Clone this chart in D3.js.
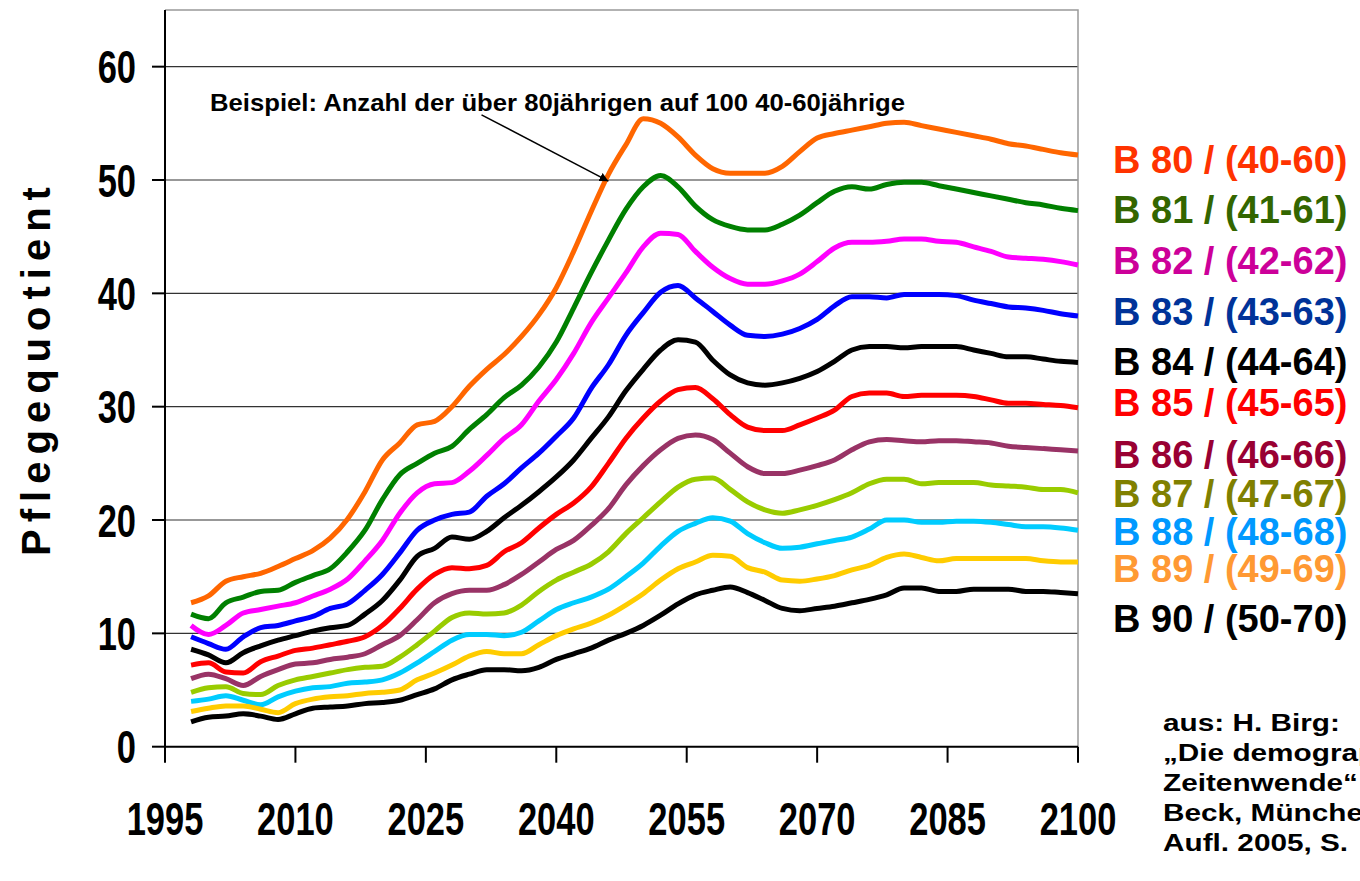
<!DOCTYPE html>
<html>
<head>
<meta charset="utf-8">
<script src="https://cdnjs.cloudflare.com/ajax/libs/d3/7.8.5/d3.min.js"></script>
<style>
body { margin: 0; background: #fff; overflow: hidden; }
svg { display: block; font-family: "Liberation Sans", Arial, sans-serif; font-weight: bold; }
</style>
</head>
<body>
<svg id="chart" width="1360" height="881"></svg>
<script>
// years of the projection (every second year)
var years = [1998, 2000, 2002, 2004, 2006, 2008, 2010, 2012, 2014, 2016,
  2018, 2020, 2022, 2024, 2026, 2028, 2030, 2032, 2034, 2036,
  2038, 2040, 2042, 2044, 2046, 2048, 2050, 2052, 2054, 2056,
  2058, 2060, 2062, 2064, 2066, 2068, 2070, 2072, 2074, 2076,
  2078, 2080, 2082, 2084, 2086, 2088, 2090, 2092, 2094, 2096,
  2098, 2100];

var b80 = [12.7, 13.3, 14.6, 15.0, 15.3, 15.9, 16.6, 17.3, 18.4, 20.1,
  22.5, 25.3, 26.8, 28.4, 28.7, 30.0, 31.8, 33.3, 34.6, 36.2,
  38.1, 40.5, 43.7, 47.2, 50.5, 53.1, 55.4, 55.0, 53.8, 52.2,
  51.0, 50.6, 50.6, 50.6, 51.2, 52.5, 53.7, 54.1, 54.4, 54.7,
  55.0, 55.1, 54.8, 54.5, 54.2, 53.9, 53.6, 53.2, 53.0, 52.7,
  52.4, 52.2];
var b81 = [11.7, 11.3, 12.7, 13.2, 13.7, 13.8, 14.5, 15.1, 15.7, 17.2,
  19.1, 21.8, 24.0, 25.0, 25.9, 26.5, 28.0, 29.3, 30.8, 31.9,
  33.5, 35.7, 38.7, 41.8, 44.7, 47.4, 49.4, 50.4, 49.4, 47.7,
  46.5, 45.9, 45.6, 45.6, 46.1, 46.9, 48.0, 49.0, 49.4, 49.2,
  49.6, 49.8, 49.8, 49.5, 49.2, 48.9, 48.6, 48.3, 48.0, 47.8,
  47.5, 47.3];
var b82 = [10.7, 9.9, 10.7, 11.8, 12.1, 12.4, 12.7, 13.3, 13.9, 14.8,
  16.4, 18.2, 20.6, 22.4, 23.2, 23.3, 24.3, 25.7, 27.2, 28.4,
  30.5, 32.4, 34.7, 37.4, 39.6, 41.8, 44.1, 45.3, 45.2, 43.7,
  42.3, 41.3, 40.8, 40.8, 41.1, 41.7, 42.8, 44.0, 44.5, 44.5,
  44.6, 44.8, 44.8, 44.6, 44.5, 44.1, 43.7, 43.2, 43.1, 43.0,
  42.8, 42.5];
var b83 = [9.7, 9.1, 8.6, 9.7, 10.5, 10.7, 11.1, 11.5, 12.2, 12.6,
  13.8, 15.2, 17.1, 19.1, 20.0, 20.5, 20.7, 22.1, 23.2, 24.6,
  25.9, 27.4, 29.0, 31.6, 33.7, 36.3, 38.3, 40.1, 40.7, 39.6,
  38.4, 37.2, 36.3, 36.2, 36.4, 36.9, 37.7, 38.9, 39.7, 39.7,
  39.6, 39.9, 39.9, 39.9, 39.8, 39.4, 39.1, 38.8, 38.7, 38.5,
  38.2, 38.0];
var b84 = [8.6, 8.1, 7.4, 8.3, 8.9, 9.4, 9.8, 10.2, 10.5, 10.7,
  11.7, 12.9, 14.7, 16.8, 17.5, 18.5, 18.3, 19.0, 20.2, 21.3,
  22.5, 23.8, 25.3, 27.2, 29.1, 31.4, 33.3, 35.0, 35.9, 35.7,
  34.1, 32.8, 32.1, 31.9, 32.1, 32.5, 33.1, 34.0, 35.0, 35.3,
  35.3, 35.2, 35.3, 35.3, 35.3, 35.0, 34.7, 34.4, 34.4, 34.2,
  34.0, 33.9];
var b85 = [7.2, 7.4, 6.6, 6.5, 7.5, 8.0, 8.5, 8.7, 9.0, 9.3,
  9.7, 10.7, 12.2, 13.9, 15.2, 15.8, 15.7, 16.0, 17.2, 18.0,
  19.3, 20.5, 21.5, 22.9, 25.0, 27.2, 29.0, 30.5, 31.5, 31.7,
  30.7, 29.3, 28.2, 27.9, 27.9, 28.4, 29.0, 29.7, 30.9, 31.2,
  31.2, 30.9, 31.0, 31.0, 31.0, 30.9, 30.6, 30.3, 30.3, 30.2,
  30.1, 29.9];
var b86 = [6.0, 6.4, 6.0, 5.4, 6.2, 6.8, 7.3, 7.4, 7.7, 7.9,
  8.2, 9.0, 9.8, 11.2, 12.7, 13.5, 13.8, 13.8, 14.3, 15.2,
  16.3, 17.4, 18.2, 19.5, 21.0, 23.1, 24.8, 26.2, 27.2, 27.5,
  27.1, 25.9, 24.7, 24.1, 24.1, 24.4, 24.8, 25.3, 26.2, 26.9,
  27.1, 27.0, 26.9, 27.0, 27.0, 26.9, 26.8, 26.5, 26.4, 26.3,
  26.2, 26.1];
var b87 = [4.8, 5.2, 5.3, 4.7, 4.6, 5.4, 5.9, 6.2, 6.5, 6.8,
  7.0, 7.1, 7.9, 9.0, 10.2, 11.4, 11.8, 11.7, 11.8, 12.5,
  13.7, 14.7, 15.4, 16.1, 17.2, 18.8, 20.2, 21.6, 22.9, 23.6,
  23.7, 22.7, 21.6, 20.9, 20.6, 20.9, 21.3, 21.8, 22.4, 23.2,
  23.6, 23.6, 23.2, 23.3, 23.3, 23.3, 23.1, 23.0, 22.9, 22.7,
  22.7, 22.4];
var b88 = [4.0, 4.2, 4.5, 4.1, 3.7, 4.4, 4.9, 5.2, 5.3, 5.6,
  5.7, 5.9, 6.5, 7.4, 8.4, 9.4, 9.9, 9.9, 9.8, 10.1,
  11.1, 12.1, 12.7, 13.2, 13.9, 15.0, 16.2, 17.7, 19.0, 19.7,
  20.2, 19.9, 18.8, 18.0, 17.5, 17.6, 17.9, 18.2, 18.5, 19.2,
  20.0, 20.0, 19.8, 19.8, 19.9, 19.9, 19.8, 19.6, 19.4, 19.4,
  19.3, 19.1];
var b89 = [3.1, 3.4, 3.6, 3.6, 3.3, 3.0, 3.8, 4.2, 4.4, 4.5,
  4.7, 4.8, 5.0, 5.9, 6.5, 7.2, 8.0, 8.4, 8.2, 8.2,
  9.0, 9.8, 10.4, 10.9, 11.6, 12.5, 13.5, 14.7, 15.7, 16.3,
  16.9, 16.8, 15.8, 15.4, 14.7, 14.6, 14.8, 15.1, 15.6, 16.0,
  16.7, 17.0, 16.7, 16.4, 16.6, 16.6, 16.6, 16.6, 16.6, 16.4,
  16.3, 16.3];
var b90 = [2.2, 2.6, 2.7, 2.9, 2.7, 2.4, 2.9, 3.4, 3.5, 3.6,
  3.8, 3.9, 4.1, 4.6, 5.1, 5.9, 6.4, 6.8, 6.8, 6.7,
  7.0, 7.7, 8.2, 8.7, 9.4, 10.0, 10.7, 11.6, 12.6, 13.4,
  13.8, 14.1, 13.6, 12.9, 12.2, 12.0, 12.2, 12.4, 12.7, 13.0,
  13.4, 14.0, 14.0, 13.7, 13.7, 13.9, 13.9, 13.9, 13.7, 13.7,
  13.6, 13.5];

var seriesNames = ["B 80 / (40-60)", "B 81 / (41-61)", "B 82 / (42-62)", "B 83 / (43-63)",
  "B 84 / (44-64)", "B 85 / (45-65)", "B 86 / (46-66)", "B 87 / (47-67)",
  "B 88 / (48-68)", "B 89 / (49-69)", "B 90 / (50-70)"];
var seriesValues = [b80, b81, b82, b83, b84, b85, b86, b87, b88, b89, b90];
var lineColors = ["#ff6600", "#008000", "#ff00ff", "#0000ff", "#000000", "#ff0000",
  "#993366", "#99cc00", "#00ccff", "#ffcc00", "#000000"];
var labelColors = ["#ff3300", "#336600", "#cc0099", "#003399", "#000000", "#ff0000",
  "#990033", "#808000", "#0099ff", "#ff9933", "#000000"];

var xTicks = [1995, 2010, 2025, 2040, 2055, 2070, 2085, 2100];
var yTicks = [0, 10, 20, 30, 40, 50, 60];
var note = "Beispiel: Anzahl der über 80jährigen auf 100 40-60jährige";
var citation = ["aus: H. Birg:", "„Die demographische", "Zeitenwende“", "Beck, München,", "Aufl. 2005, S."];

// layout
var legendBase = [173, 223, 274, 325, 375, 416, 468, 507, 545, 582, 632];

var svg = d3.select("#chart");

var x = d3.scaleLinear().domain([1995, 2100]).range([165, 1078]),
    y = d3.scaleLinear().domain([0, 65]).range([746.7, 10.0]);

// grid
svg.append("g").selectAll("line")
    .data(yTicks.filter(function(d) { return d > 0; }))
  .enter().append("line")
    .attr("x1", x(1995)).attr("x2", x(2100))
    .attr("y1", function(d) { return y(d); })
    .attr("y2", function(d) { return y(d); })
    .style("stroke", "#333").style("stroke-width", 1.2);

// plot frame (top, right)
svg.append("path")
    .attr("d", "M" + x(1995) + "," + y(65) + "H" + x(2100) + "V" + y(0))
    .style("fill", "none").style("stroke", "#999").style("stroke-width", 1.5);

// axes
var axisG = svg.append("g").style("stroke", "#000").style("stroke-width", 2);
axisG.append("line").attr("x1", x(1995)).attr("x2", x(1995)).attr("y1", y(65)).attr("y2", y(0));
axisG.append("line").attr("x1", x(1995) - 1).attr("x2", x(2100)).attr("y1", y(0)).attr("y2", y(0));
axisG.selectAll(".yt").data(yTicks).enter().append("line")
    .attr("x1", x(1995) - 13).attr("x2", x(1995))
    .attr("y1", function(d) { return y(d); }).attr("y2", function(d) { return y(d); });
axisG.selectAll(".xt").data(xTicks).enter().append("line")
    .attr("x1", function(d) { return x(d); }).attr("x2", function(d) { return x(d); })
    .attr("y1", y(0)).attr("y2", y(0) + 16);

svg.append("g").selectAll("text")
    .data(yTicks)
  .enter().append("text")
    .attr("transform", function(d) { return "translate(136," + (y(d) + 16.5) + ") scale(0.75,1)"; })
    .attr("text-anchor", "end")
    .style("font-size", "46px")
    .text(function(d) { return d; });

svg.append("g").selectAll("text")
    .data(xTicks)
  .enter().append("text")
    .attr("transform", function(d) { return "translate(" + x(d) + ",835) scale(0.75,1)"; })
    .attr("text-anchor", "middle")
    .style("font-size", "46px")
    .text(function(d) { return d; });

svg.append("text")
    .attr("transform", "translate(50,368) rotate(-90)")
    .attr("text-anchor", "middle")
    .style("font-size", "40px")
    .style("letter-spacing", "7px")
    .text("Pflegequotient");

// lines
var line = d3.line()
    .x(function(d, i) { return x(years[i]); })
    .y(function(d) { return y(d); })
    .curve(d3.curveMonotoneX);

svg.append("g").selectAll("path")
    .data(seriesValues)
  .enter().append("path")
    .attr("d", line)
    .style("fill", "none")
    .style("stroke", function(d, i) { return lineColors[i]; })
    .style("stroke-width", 5)
    .style("stroke-linejoin", "round");

// annotation with arrow
svg.append("defs").append("marker")
    .attr("id", "tip")
    .attr("viewBox", "0 0 10 10")
    .attr("refX", 10).attr("refY", 5)
    .attr("markerWidth", 9).attr("markerHeight", 9)
    .attr("markerUnits", "userSpaceOnUse")
    .attr("orient", "auto")
  .append("path")
    .attr("d", "M0,0L10,5L0,10Z")
    .style("fill", "#000");

svg.append("text")
    .attr("x", 210).attr("y", 111)
    .attr("textLength", 695)
    .attr("lengthAdjust", "spacingAndGlyphs")
    .style("font-size", "24px")
    .text(note);

svg.append("line")
    .attr("x1", x(2031.4)).attr("y1", y(55.75))
    .attr("x2", x(2046)).attr("y2", y(49.9))
    .style("stroke", "#000").style("stroke-width", 1.5)
    .attr("marker-end", "url(#tip)");

// legend
svg.append("g").selectAll("text")
    .data(seriesNames)
  .enter().append("text")
    .attr("x", 1113)
    .attr("y", function(d, i) { return legendBase[i]; })
    .style("font-size", "38px")
    .style("fill", function(d, i) { return labelColors[i]; })
    .text(function(d) { return d; });

// source (runs past the right edge, as in the original)
svg.append("g").selectAll("text")
    .data(citation)
  .enter().append("text")
    .attr("transform", function(d, i) { return "translate(1163," + (731 + i * 30) + ") scale(1.24,1)"; })
    .style("font-size", "24px")
    .text(function(d) { return d; });
</script>
</body>
</html>
